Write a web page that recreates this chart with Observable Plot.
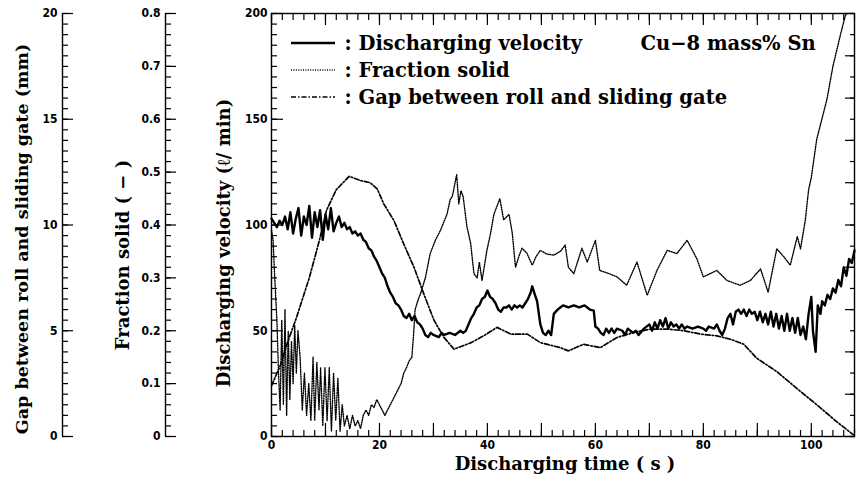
<!DOCTYPE html>
<html><head><meta charset="utf-8">
<script src="https://cdn.jsdelivr.net/npm/d3@7"></script>
<script src="https://cdn.jsdelivr.net/npm/@observablehq/plot@0.6"></script>
<style>
body{margin:0;background:#fff;}
#chart{position:relative;width:856px;height:481px;}
#legend{position:absolute;left:0;top:0;pointer-events:none;}
</style></head><body><div id="chart"></div>
<script>
// ---- data ----
const velocityTime = [0,0.5,1,1.5,2,2.5,3,3.5,4,4.5,5,5.5,6,6.5,7,7.5,8,8.5,9,9.5,10,10.5,11,11.5,12,12.5,13,13.5,14,14.5,15,15.5,16,16.5,17,17.5,18,18.5,19,19.5,20,20.5,21,21.5,22,22.5,23,23.5,24,24.5,25,25.5,26,26.5,27,27.5,28,28.5,29,29.5,30,31,31.5,32,33,34,35,35.5,36,36.5,37,37.5,38,38.5,39,39.5,40,40.5,41,41.5,42,42.5,43,43.5,44,44.5,45,45.5,46,46.5,47,47.5,48,48.3,48.8,49.2,49.8,50.3,50.8,51.3,51.8,52.3,53,53.5,54,55,56,57,58,58.5,59,59.7,60,60.5,61,61.5,62,62.5,63,63.5,64,65,65.5,66,67,67.5,68,69,70,70.5,71,71.5,72,72.5,73,73.5,74,74.5,75,75.5,76,76.5,77,78,79,80,80.5,81,82,82.5,83,83.5,84,84.5,85,85.5,86,86.5,87,87.5,88,88.5,89,89.5,90,90.5,91,91.5,92,92.5,93,93.5,94,94.5,95,95.5,96,96.5,97,97.5,98,98.5,99,99.5,100,100.3,100.8,101.2,101.7,102,102.5,103,103.5,104,104.5,105,105.5,106,106.5,107,107.5,108];
const velocity = [103,101,99,102,100,104,98,106,96,103,108,95,104,100,109,94,106,99,107,93,105,98,108,97,101,104,99,101,98,99,96,97,95,96,93,92,89,88,85,83,80,77,75,71,68,66,63,62,60,57,56,58,55,57,54,53,51,48,47,49,48,47,49,48,49,48,50,49,50,53,56,58,61,62,65,66,69,66,65,63,60,59,61,61,62,60,62,61,62,61,63,65,68,71,67,64,53,49,48,50,48,58,60,61,62,61,62,61,62,61,60,59.5,52,51,49,48,51,49,51,49,51,50,48,51,49,50,48,51,53,50,54,51,55,52,56,51,54,52,53,51,53,51,52,51,52,51,50,52,51,53,50,48,51,56,58,53,59,60,58,60,57,60,58,59,55,59,54,58,53,59,52,58,51,57,50,58,50,56,49,56,48,52,46,58,66,50,40,62,58,64,62,67,65,70,68,74,71,80,76,84,82,88];

const fractionTime = [0,0.3,0.6,1,1.3,1.6,1.9,2.2,2.5,2.8,3.1,3.4,3.7,4,4.3,4.6,4.9,5.3,5.7,6.1,6.5,6.9,7.3,7.7,8,8.4,8.8,9.1,9.5,9.9,10.3,10.7,11.1,11.5,11.9,12.3,12.7,13.1,13.5,14,14.5,15,15.5,16,16.5,17,17.5,18,18.5,19,19.5,20,20.5,21,21.5,22,22.5,23,23.5,24,24.5,25,25.5,26,26.3,26.6,27.2,27.6,28.5,29.4,30.3,31.3,32.5,33.1,33.5,34.3,34.7,35.1,35.5,36.2,36.9,37.5,38.1,38.5,39,39.9,40.5,41.2,42.3,43,44,44.6,45.2,45.8,46.4,47.3,48.3,49,49.8,51,52.3,53.5,54.4,55,56,57.5,58.5,60,60.8,62,64,65.8,67.7,69.6,71.4,73.3,75.1,77,78.8,80,82.5,84.4,86.8,88.7,90.6,92,93.6,94.9,96.1,97.4,98,98.9,99.5,100,101,102.9,104,105.4,106.3,106.6];
const fraction = [0.39,0.37,0.30,0.22,0.12,0.05,0.22,0.06,0.24,0.04,0.20,0.07,0.18,0.10,0.21,0.12,0.20,0.15,0.05,0.12,0.04,0.10,0.03,0.15,0.03,0.14,0.05,0.13,0.02,0.13,0.03,0.13,0.01,0.12,0.03,0.11,0.01,0.06,0.02,0.04,0.015,0.04,0.02,0.03,0.015,0.04,0.05,0.04,0.06,0.055,0.07,0.06,0.05,0.04,0.05,0.06,0.07,0.08,0.09,0.10,0.12,0.13,0.143,0.15,0.19,0.24,0.26,0.27,0.30,0.346,0.37,0.39,0.42,0.448,0.454,0.495,0.44,0.465,0.454,0.397,0.365,0.308,0.30,0.33,0.295,0.352,0.38,0.42,0.45,0.41,0.42,0.385,0.32,0.34,0.356,0.347,0.324,0.34,0.352,0.345,0.343,0.35,0.362,0.32,0.308,0.356,0.33,0.371,0.314,0.31,0.302,0.286,0.33,0.267,0.314,0.352,0.346,0.371,0.336,0.302,0.314,0.295,0.286,0.295,0.317,0.273,0.355,0.34,0.324,0.378,0.355,0.41,0.467,0.49,0.562,0.638,0.70,0.76,0.796,0.8];

const gapTime = [0,1.7,2.9,4.6,7,8.9,10.2,12,14.4,16.5,18.3,19.6,20.8,22.7,24.5,26.4,28.2,30.1,31.9,33.8,35.6,37,39.3,41.8,44.3,47.4,49.8,53.5,55,57.8,60.9,64,67.1,70.2,73.3,76.4,79.5,82.5,85,87.5,89.9,93.6,97.3,101,104.7,107.8];
const gap = [2.4,3.4,4.4,5.6,7.5,9.3,10.7,11.67,12.3,12.1,12.0,11.7,11.0,10.2,9.1,8.0,6.75,5.5,4.7,4.13,4.3,4.44,4.76,5.16,4.84,4.84,4.44,4.2,4.05,4.36,4.2,4.68,4.92,5.08,5.08,5.0,4.84,4.76,4.6,4.36,3.7,3.07,2.28,1.5,0.7,0.08];

const timeTickLabels = [0,20,40,60,80,100];
const velocityTickLabels = [0,50,100,150,200];
const fractionTickLabels = [0,0.1,0.2,0.3,0.4,0.5,0.6,0.7,0.8];
const gapTickLabels = [0,5,10,15,20];
const legendLabels = [": Discharging velocity", ": Fraction solid", ": Gap between roll and sliding gate"];
const alloyLabel = "Cu\u22128 mass% Sn";
const xTitle = "Discharging time ( s )";
const velocityTitle = "Discharging velocity (\u2113/ min)";
const fractionTitle = "Fraction solid ( \u2212 )";
const gapTitle = "Gap between roll and sliding gate (mm)";

// the three left scales share one vertical span: 200 ℓ/min ↔ 0.8 ↔ 20 mm
const FR = 250, GP = 10;

const vel = velocityTime.map((t, i) => ({t, v: velocity[i]}));
const frac = fractionTime.map((t, i) => ({t, f: fraction[i]}));
const gp = gapTime.map((t, i) => ({t, g: gap[i]}));

const none = () => "";
const FRAC_DX = -106, GAP_DX = -209;
const serif = "'DejaVu Serif', serif";
// inward ticks: shift the axis by its own tick length so each tick ends on its spine
const inX = (vals, anchor, len) => Plot.axisX(vals, {anchor, tickSize: len, dy: anchor === "bottom" ? -len : len, tickFormat: none, label: null, strokeWidth: 1.2});
const inY = (vals, anchor, len, dx0 = 0) => Plot.axisY(vals, {anchor, tickSize: len, dx: dx0 + (anchor === "left" ? len : -len), tickFormat: none, label: null, strokeWidth: 1.2});
const title = (txt, opts) => Plot.text([txt], {text: d => d, fontFamily: serif, fontWeight: "bold", fill: "#000", ...opts});

const chart = Plot.plot({
  width: 856, height: 481,
  marginLeft: 271, marginRight: 2, marginTop: 13, marginBottom: 45,
  x: {domain: [0, 108]},
  y: {domain: [0, 200]},
  style: {background: "#fff", color: "#000", fontFamily: "'DejaVu Sans Condensed','DejaVu Sans',sans-serif", fontWeight: "bold", fontSize: "12px"},
  marks: [
    Plot.frame({stroke: "#000", strokeWidth: 1.4}),
    // time axis
    Plot.axisX(timeTickLabels, {anchor: "bottom", tickSize: 0, tickPadding: 4, label: null}),
    inX(d3.range(0, 109, 2), "bottom", 6),
    inX(d3.range(0, 109, 10), "bottom", 13),
    inX(d3.range(0, 109, 2), "top", 6),
    inX(d3.range(0, 109, 10), "top", 11),
    // velocity axis (left) and mirrored ticks (right)
    Plot.axisY(velocityTickLabels, {anchor: "left", tickSize: 0, tickPadding: 4, label: null}),
    inY(d3.range(0, 201, 5), "left", 6),
    inY(d3.range(0, 201, 50), "left", 12),
    inY(d3.range(0, 201, 10), "right", 5),
    inY(d3.range(0, 201, 20), "right", 10),
    // fraction solid axis
    Plot.ruleX([0], {dx: FRAC_DX, stroke: "#000", strokeWidth: 1.4}),
    Plot.axisY(fractionTickLabels.map(f => f * FR), {anchor: "left", dx: FRAC_DX, tickSize: 0, tickPadding: 5, label: null,
      tickFormat: d => { const f = d / FR; return f === 0 ? "0" : f.toFixed(1); }}),
    inY(d3.range(0, 201, 5), "left", 6, FRAC_DX),
    inY(fractionTickLabels.map(f => f * FR), "left", 11, FRAC_DX),
    // gap axis
    Plot.ruleX([0], {dx: GAP_DX, stroke: "#000", strokeWidth: 1.4}),
    Plot.axisY(gapTickLabels.map(g => g * GP), {anchor: "left", dx: GAP_DX, tickSize: 0, tickPadding: 5, label: null,
      tickFormat: d => String(d / GP)}),
    inY(d3.range(0, 201, 5), "left", 6, GAP_DX),
    inY(gapTickLabels.map(g => g * GP), "left", 11, GAP_DX),
    // series
    Plot.line(gp, {x: "t", y: d => d.g * GP, stroke: "#000", strokeWidth: 1.7, strokeDasharray: "5,2,1.5,2"}),
    Plot.line(frac, {x: "t", y: d => d.f * FR, stroke: "#000", strokeWidth: 1.4, strokeDasharray: "1,1.4"}),
    Plot.line(vel, {x: "t", y: "v", stroke: "#000", strokeWidth: 2.4, strokeLinejoin: "round"}),
    // axis titles
    title(xTitle, {frameAnchor: "bottom", dx: 2, dy: 33, fontSize: 18}),
    title(velocityTitle, {frameAnchor: "left", dx: -47, dy: 18, rotate: -90, textAnchor: "middle", lineAnchor: "middle", fontSize: 18}),
    title(fractionTitle, {frameAnchor: "left", dx: -148, dy: 30, rotate: -90, textAnchor: "middle", lineAnchor: "middle", fontSize: 18}),
    title(gapTitle, {frameAnchor: "left", dx: -249, dy: 14, rotate: -90, textAnchor: "middle", lineAnchor: "middle", fontSize: 17.5}),
    // legend texts
    ...legendLabels.map((txt, i) => title(txt, {frameAnchor: "top-left", dx: 73, dy: 30 + 27 * i, textAnchor: "start", lineAnchor: "middle", fontSize: 19.5})),
    title(alloyLabel, {frameAnchor: "top-left", dx: 369, dy: 30, textAnchor: "start", lineAnchor: "middle", fontSize: 19.5})
  ]
});
const holder = document.getElementById("chart");
holder.appendChild(chart);

// legend line samples, in their own overlay
const dashes = [null, "1,1.4", "5,2,1.5,2"];
const widths = [2.4, 1.4, 1.7];
const ov = d3.select(holder).append("svg").attr("id", "legend").attr("width", 856).attr("height", 481);
legendLabels.forEach((txt, i) => {
  const y = 43 + i * 27;
  ov.append("line").attr("x1", 291).attr("x2", 335).attr("y1", y).attr("y2", y)
    .attr("stroke", "#000").attr("stroke-width", widths[i]).attr("stroke-dasharray", dashes[i]);
});
</script></body></html>
